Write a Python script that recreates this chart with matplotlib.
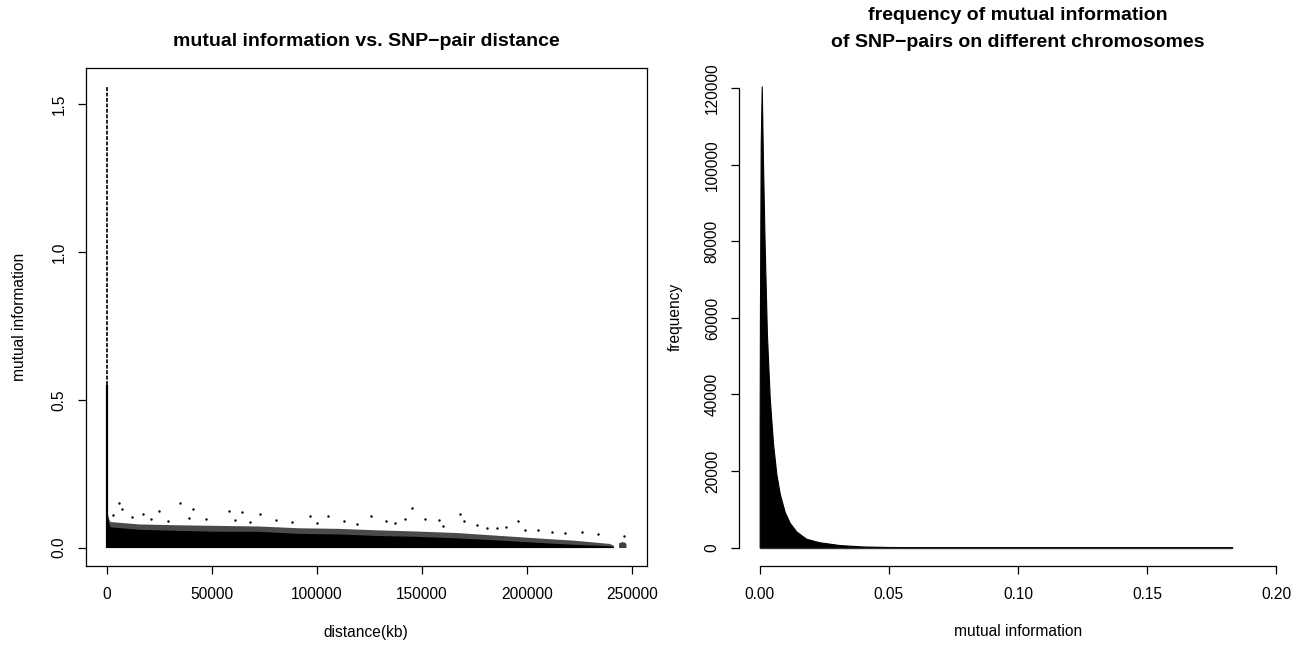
import numpy as np
import matplotlib.pyplot as plt

plt.rcParams['font.family'] = ['Liberation Sans', 'DejaVu Sans']

# --- left panel: mutual information vs distance ---
# column of points at distance ~0
spike_dist = [0]
spike_dense_top = [0.55]
spike_top = [1.56]

# upper edge of the solid black band
band_dist = [0, 800, 1500, 15000, 34000, 53000, 72000, 91000, 110000, 128000,
             147000, 166000, 185000, 204000, 222000, 239000, 241000]
band_top = [0.12, 0.085, 0.070, 0.062, 0.058, 0.055, 0.055, 0.048, 0.046, 0.041,
            0.038, 0.033, 0.026, 0.018, 0.011, 0.006, 0.004]
# fringe of loose points above the band
fringe_top = [0.12, 0.10, 0.088, 0.080, 0.077, 0.075, 0.073, 0.067, 0.065, 0.060,
              0.056, 0.051, 0.042, 0.033, 0.025, 0.014, 0.008]

# small cluster at the far right
tail_dist = [243500, 245000, 246500, 247000]
tail_top = [0.016, 0.020, 0.018, 0.012]

# isolated outliers
out_dist = [6000, 7300, 34800, 41000, 24800, 58300, 64300, 72800, 145000, 167800,
            195500, 96700, 105000, 125500, 142000, 151200, 132800, 169700, 185700,
            212000, 226000, 233600, 245900, 80300, 38900, 17300, 113000, 158000,
            12000, 47000, 88000, 176000, 190000, 205000, 218000, 3000, 21000,
            29000, 61000, 68000, 100000, 119000, 137000, 160000, 181000, 199000]
out_mi = [0.151, 0.129, 0.151, 0.129, 0.123, 0.123, 0.120, 0.115, 0.133, 0.112,
          0.089, 0.106, 0.106, 0.108, 0.098, 0.095, 0.089, 0.089, 0.066,
          0.052, 0.054, 0.046, 0.040, 0.092, 0.100, 0.112, 0.089, 0.092,
          0.105, 0.098, 0.085, 0.075, 0.070, 0.060, 0.050, 0.110, 0.095,
          0.090, 0.094, 0.088, 0.082, 0.080, 0.083, 0.072, 0.065, 0.058]

# --- right panel: histogram of mutual information (outline of the bars) ---
hist_mi = [0, 0.0001, 0.0004, 0.0008, 0.0013, 0.0019, 0.0028, 0.0039, 0.0052,
           0.0065, 0.0078, 0.0097, 0.0116, 0.0142, 0.018, 0.023, 0.031, 0.040,
           0.050, 0.070, 0.100, 0.150, 0.183]
hist_freq = [33000, 60000, 105000, 120500, 100000, 80000, 55800, 39000, 27000,
             19000, 14000, 9300, 6500, 4200, 2300, 1400, 650, 280,
             150, 50, 15, 3, 1]

W, H = 1310, 646
fig = plt.figure(figsize=(W / 100, H / 100), dpi=100)
fs = 11.2

# left plot
ax1 = fig.add_axes([86 / W, 80 / H, 561 / W, 498 / H])
ax1.fill_between(band_dist, 0, fringe_top, color='#4a4a4a', linewidth=0)
ax1.fill_between(band_dist, 0, band_top, color='black', linewidth=0)
ax1.fill_between(tail_dist, 0, tail_top, color='#404040', linewidth=0)
ax1.vlines(spike_dist, 0, spike_dense_top, color='black', linewidth=1.6)
ax1.vlines(spike_dist, spike_dense_top, spike_top, color='#222222', linewidth=1.4,
           linestyles=(0, (2, 0.8)))
ax1.plot(out_dist, out_mi, 'k.', markersize=1.5)
ax1.set_xlim(-9900, 257000)
ax1.set_ylim(-0.0624, 1.6224)
ax1.set_xticks([0, 50000, 100000, 150000, 200000, 250000])
ax1.set_xticklabels(['0', '50000', '100000', '150000', '200000', '250000'])
ax1.set_yticks([0, 0.5, 1.0, 1.5])
ax1.set_yticklabels(['0.0', '0.5', '1.0', '1.5'], rotation=90, va='center')
for sp in ax1.spines.values():
    sp.set_linewidth(0.9)

# right plot
ax2 = fig.add_axes([739 / W, 80 / H, 558 / W, 498 / H])
ax2.fill_between(hist_mi, 0, hist_freq, color='black', linewidth=0.8)
ax2.hlines(0, hist_mi[0], hist_mi[-1], color='#333333', linewidth=1.0)
ax2.set_xlim(-0.008, 0.208)
ax2.set_ylim(-4820, 125320)
ax2.set_xticks([0, 0.05, 0.10, 0.15, 0.20])
ax2.set_xticklabels(['0.00', '0.05', '0.10', '0.15', '0.20'])
ax2.set_yticks([0, 20000, 40000, 60000, 80000, 100000, 120000])
ax2.set_yticklabels(['0', '20000', '40000', '60000', '80000', '100000', '120000'],
                    rotation=90, va='center')
ax2.spines['top'].set_visible(False)
ax2.spines['right'].set_visible(False)
ax2.spines['left'].set_bounds(0, 120000)
ax2.spines['bottom'].set_bounds(0, 0.20)
for sp in ax2.spines.values():
    sp.set_linewidth(0.9)

for ax in (ax1, ax2):
    ax.tick_params(direction='out', length=5.8, width=0.9, labelsize=fs)
    ax.tick_params(axis='x', pad=9)
    ax.tick_params(axis='y', pad=8)

fig.text(366 / W, 1 - 42 / H, 'mutual information vs. SNP\u2212pair distance',
         ha='center', va='center', fontsize=14, fontweight='bold')
fig.text(1018 / W, 1 - 29 / H,
         'frequency of mutual information\nof SNP\u2212pairs on different chromosomes',
         ha='center', va='center', fontsize=14, fontweight='bold', linespacing=1.8)
fig.text(366 / W, 1 - 632 / H, 'distance(kb)', ha='center', va='center', fontsize=fs)
fig.text(1018 / W, 1 - 632 / H, 'mutual information', ha='center', va='center', fontsize=fs)
fig.text(20 / W, 1 - 317 / H, 'mutual information', ha='center', va='center',
         rotation=90, fontsize=fs)
fig.text(675 / W, 1 - 317 / H, 'frequency', ha='center', va='center',
         rotation=90, fontsize=fs)

fig.savefig('out.png', dpi=100)
